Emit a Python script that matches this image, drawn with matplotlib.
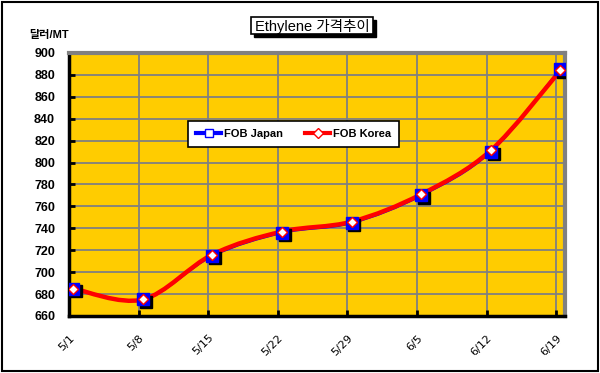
import matplotlib
matplotlib.use("Agg")
import matplotlib.pyplot as plt
from matplotlib.path import Path
from matplotlib.patches import PathPatch, Rectangle
from matplotlib.lines import Line2D
import numpy as np

plt.rcParams['font.family'] = ['Liberation Sans', 'Noto Sans CJK KR', 'DejaVu Sans']

dates = ['5/1', '5/8', '5/15', '5/22', '5/29', '6/5', '6/12', '6/19']
fob_japan = [685, 675, 715, 736, 745, 770, 810, 885]
fob_korea = [685, 675, 716, 737, 746, 771, 811, 884]

yellow = '#FFCC00'
grid_gray = '#808080'


def smooth_path(xs, ys, tension=1/6):
    # Catmull-Rom style bezier through the points (like Excel smoothed line)
    xs = np.asarray(xs, float)
    ys = np.asarray(ys, float)
    n = len(xs)
    verts = [(xs[0], ys[0])]
    codes = [Path.MOVETO]
    for i in range(n - 1):
        p0 = (xs[max(i - 1, 0)], ys[max(i - 1, 0)])
        p1 = (xs[i], ys[i])
        p2 = (xs[i + 1], ys[i + 1])
        p3 = (xs[min(i + 2, n - 1)], ys[min(i + 2, n - 1)])
        c1 = (p1[0] + (p2[0] - p0[0]) * tension, p1[1] + (p2[1] - p0[1]) * tension)
        c2 = (p2[0] - (p3[0] - p1[0]) * tension, p2[1] - (p3[1] - p1[1]) * tension)
        verts += [c1, c2, p2]
        codes += [Path.CURVE4] * 3
    return Path(verts, codes)


fig = plt.figure(figsize=(6, 3.73), dpi=100)
fig.patch.set_facecolor('white')
fig.add_artist(Rectangle((0.004, 0.006), 0.992, 0.988, transform=fig.transFigure,
                         fill=False, edgecolor='black', linewidth=1.5))

ax = fig.add_axes([0.115, 0.153, 0.827, 0.705])
ax.set_facecolor(yellow)

xs = np.arange(len(dates))
ax.set_xlim(-0.06, 7.07)
ax.set_ylim(660, 900)
ax.set_yticks(range(660, 901, 20))

for y in range(680, 901, 20):
    ax.axhline(y, color=grid_gray, linewidth=1.3, zorder=1)
for x in xs[1:]:
    ax.axvline(x - 0.06, color=grid_gray, linewidth=1.3, zorder=1)

# japan (blue) sits under the korea (red) smoothed line
jp = PathPatch(smooth_path(xs, fob_japan), facecolor='none', edgecolor='blue',
               linewidth=2, zorder=3)
ax.add_patch(jp)
kr = PathPatch(smooth_path(xs, fob_korea), facecolor='none', edgecolor='red',
               linewidth=3.2, zorder=4)
ax.add_patch(kr)

# markers: blue squares with black shadow, white diamonds with red edge
ax.plot(xs + 0.04, np.array(fob_japan) - 2, linestyle='none', marker='s', markersize=8,
        color='black', zorder=5)
ax.plot(xs, fob_japan, linestyle='none', marker='s', markersize=8,
        markerfacecolor='blue', markeredgecolor='blue', zorder=6)
ax.plot(xs, fob_korea, linestyle='none', marker='D', markersize=5.5,
        markerfacecolor='white', markeredgecolor='red', markeredgewidth=1, zorder=7)

for side in ['top', 'right']:
    ax.spines[side].set_color(grid_gray)
    ax.spines[side].set_linewidth(3)
for side in ['left', 'bottom']:
    ax.spines[side].set_color('black')
    ax.spines[side].set_linewidth(2.5)

ax.set_xticks(xs - 0.06)
ax.set_xticklabels(dates, rotation=45, ha='right', rotation_mode='anchor',
                   fontsize=8, fontfamily='DejaVu Sans')
ax.tick_params(axis='x', length=4, width=2, direction='in', pad=12)
ax.tick_params(axis='y', length=4, width=2, direction='in', pad=10, labelsize=9)
for lbl in ax.get_yticklabels():
    lbl.set_fontweight('bold')

# legend
h1 = Line2D([], [], color='blue', linewidth=3, marker='s', markersize=6,
            markerfacecolor='white', markeredgecolor='blue')
h2 = Line2D([], [], color='red', linewidth=3, marker='D', markersize=5,
            markerfacecolor='white', markeredgecolor='red')
leg = ax.legend([h1, h2], ['FOB Japan', 'FOB Korea'], ncol=2,
                loc='upper left', bbox_to_anchor=(0.24, 0.74), borderaxespad=0,
                frameon=True, fancybox=False, edgecolor='black', framealpha=1,
                prop={'weight': 'bold', 'size': 8}, handlelength=2.3,
                handletextpad=0.2, columnspacing=2.0, borderpad=0.7)
leg.get_frame().set_linewidth(1.2)
leg.set_zorder(10)

# title box with a drop shadow
fig.add_artist(Rectangle((0.423, 0.901), 0.203, 0.046, transform=fig.transFigure,
                         facecolor='black', edgecolor='black', linewidth=1))
fig.add_artist(Rectangle((0.418, 0.908), 0.203, 0.046, transform=fig.transFigure,
                         facecolor='white', edgecolor='black', linewidth=1.2))
fig.text(0.52, 0.930, 'Ethylene 가격추이', ha='center', va='center', fontsize=10.5)
fig.text(0.115, 0.905, '달러/MT', ha='right', va='center', fontsize=8, fontweight='bold')

fig.savefig('out.png', dpi=100, facecolor='white')
